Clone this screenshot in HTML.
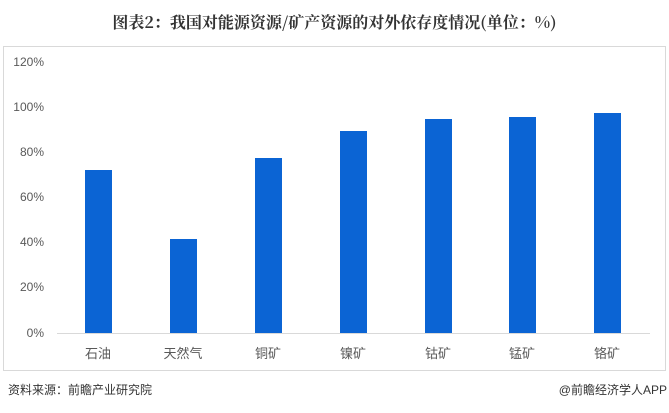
<!DOCTYPE html>
<html><head><meta charset="utf-8"><style>
body{margin:0;width:669px;height:413px;background:#fff;font-family:"Liberation Sans","Noto Sans CJK SC",sans-serif;position:relative;overflow:hidden}
.t{position:absolute;left:0;width:669px;top:10px;text-align:center;font-weight:bold;font-size:16px;color:#333;font-family:"Noto Serif CJK SC","Noto Sans CJK SC",serif}
.box{position:absolute;left:3px;top:46px;width:661px;height:323px;border:1px solid #d9d9d9}
.y{position:absolute;left:10px;width:34px;text-align:right;font-size:12px;color:#595959}
.bar{position:absolute;width:27px;background:#0b64d4}
.x{position:absolute;top:343px;width:60px;text-align:center;font-size:13px;color:#595959}
.f{position:absolute;top:381px;font-size:12px;color:#333}
</style></head><body>
<div class="t">图表2：我国对能源资源/矿产资源的对外依存度情况(单位：%)</div>
<div class="box"></div>
<div class="y" style="top:55px">120%</div>
<div class="y" style="top:100px">100%</div>
<div class="y" style="top:145px">80%</div>
<div class="y" style="top:190px">60%</div>
<div class="y" style="top:235px">40%</div>
<div class="y" style="top:280px">20%</div>
<div class="y" style="top:326px">0%</div>
<div style="position:absolute;left:57px;top:333px;width:593px;height:1px;background:#d9d9d9"></div>
<div class="bar" style="left:85px;top:170px;height:163px"></div>
<div class="bar" style="left:170px;top:239px;height:94px"></div>
<div class="bar" style="left:255px;top:158px;height:175px"></div>
<div class="bar" style="left:340px;top:131px;height:202px"></div>
<div class="bar" style="left:425px;top:119px;height:214px"></div>
<div class="bar" style="left:509px;top:117px;height:216px"></div>
<div class="bar" style="left:594px;top:113px;height:220px"></div>
<div class="x" style="left:68px">石油</div>
<div class="x" style="left:153px">天然气</div>
<div class="x" style="left:238px">铜矿</div>
<div class="x" style="left:323px">镍矿</div>
<div class="x" style="left:408px">钴矿</div>
<div class="x" style="left:492px">锰矿</div>
<div class="x" style="left:577px">铬矿</div>
<div class="f" style="left:8px">资料来源：前瞻产业研究院</div>
<div class="f" style="right:2px">@前瞻经济学人APP</div>
</body></html>
